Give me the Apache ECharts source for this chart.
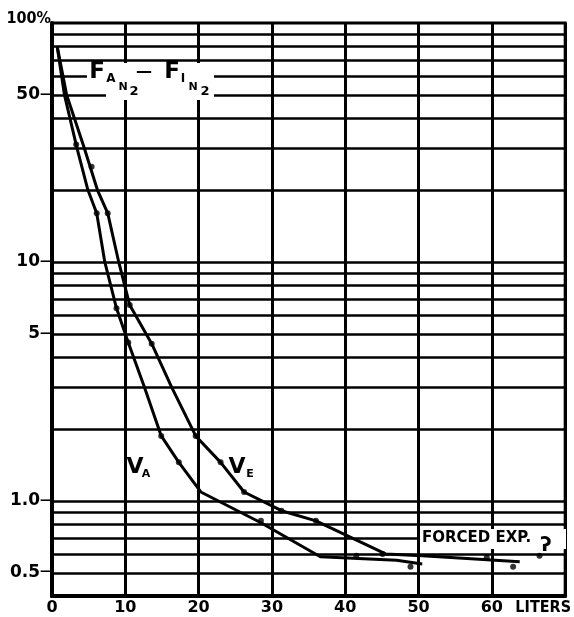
<!DOCTYPE html>
<html><head><meta charset="utf-8">
<script src="https://cdn.jsdelivr.net/npm/echarts@6/dist/echarts.min.js"></script>
<style>html,body{margin:0;padding:0;background:#fff}#c{width:574px;height:617px}</style>
</head><body><div id="c"></div>
<script>
// ---- data ----
const xTickValues = [0, 10, 20, 30, 40, 50, 60, 70];
const xTickTexts = ['0', '10', '20', '30', '40', '50', '60', 'LITERS'];
const yLabelValues = [0.5, 1, 5, 10, 50, 100];
const yLabelTexts = ['0.5', '1.0', '5', '10', '50', '100%'];
const yGridValues = [0.5, 0.6, 0.7, 0.8, 0.9, 1, 2, 3, 4, 5, 6, 7, 8, 9, 10, 20, 30, 40, 50, 60, 70, 80, 90];

// V_A curve (alveolar)
const vaLineX = [0.7, 1.7, 3.4, 4.9, 6.1, 7.2, 8.8, 10.4, 12.6, 14.9, 17.3, 20.3, 28.5, 36.6, 47.0, 50.5];
const vaLineY = [80, 50, 30, 20, 16, 10, 6.4, 4.6, 3.0, 1.87, 1.45, 1.09, 0.81, 0.584, 0.565, 0.545];
// V_E curve (expired)
const veLineX = [0.7, 2.0, 4.4, 6.2, 7.6, 9.1, 10.6, 13.6, 16.3, 19.6, 23.0, 26.2, 31.3, 36.0, 45.5, 50.5, 63.8];
const veLineY = [80, 50, 30, 20, 16, 10, 6.6, 4.55, 3.0, 1.87, 1.45, 1.09, 0.91, 0.825, 0.6, 0.59, 0.557];

// measured points
const vaDotX = [3.3, 6.1, 8.8, 10.4, 14.9, 17.3, 28.5, 41.5, 48.9];
const vaDotY = [31, 16, 6.4, 4.6, 1.87, 1.45, 0.825, 0.59, 0.53];
const veDotX = [5.4, 7.6, 10.6, 13.6, 19.6, 23.0, 26.2, 31.3, 36.0, 45.1, 59.3, 62.9, 66.5];
const veDotY = [25, 16, 6.6, 4.55, 1.87, 1.45, 1.09, 0.91, 0.825, 0.6, 0.58, 0.53, 0.59];

// ---- chart ----
const FONT = "'DejaVu Sans', sans-serif";
const CFONT = "'DejaVu Sans Condensed', 'DejaVu Sans', sans-serif";
const pairs = (xs, ys) => xs.map((x, i) => [x, ys[i]]);
const nearestIdx = (v) => {
  let best = -1, bd = 1e9;
  yLabelValues.forEach((lv, i) => { const d = Math.abs(Math.log10(v) - Math.log10(lv)); if (d < bd) { bd = d; best = i; } });
  return bd < 0.01 ? best : -1;
};

const chart = echarts.init(document.getElementById('c'), null, { renderer: 'canvas' });

function txt(x, y, text, size, extra) {
  return Object.assign({
    type: 'text', x: x, y: y, z: 101,
    style: { text: text, fontSize: size, fontWeight: 'bold', fontFamily: FONT, fill: '#000', align: 'center', verticalAlign: 'middle' }
  }, extra || {});
}
function box(x, y, w, h) {
  return { type: 'rect', z: 100, shape: { x: x, y: y, width: w, height: h }, style: { fill: '#fff' } };
}

const option = {
  animation: false,
  backgroundColor: '#fff',
  grid: { left: 52, right: 7, top: 23, bottom: 21, show: true, borderColor: '#000', borderWidth: 3, backgroundColor: 'transparent' },
  xAxis: {
    type: 'value', min: 0, max: 70, interval: 10,
    axisLine: { show: true, onZero: false, lineStyle: { color: '#000', width: 4 } },
    axisTick: { show: false },
    splitLine: { show: true, lineStyle: { color: '#000', width: 3 } },
    axisLabel: {
      color: '#000', fontFamily: FONT, fontWeight: 'bold', fontSize: 16, margin: 4,
      formatter: (v) => { const i = xTickValues.indexOf(v); return v === 70 ? '{u|' + xTickTexts[i] + '}' : xTickTexts[i]; },
      rich: { u: { fontFamily: CFONT, fontWeight: 'bold', fontSize: 16, color: '#000', padding: [0, 44, 0, 0] } }
    }
  },
  yAxis: {
    type: 'log', logBase: 10, min: 0.4, max: 100,
    axisLine: { show: true, onZero: false, lineStyle: { color: '#000', width: 4 } },
    axisTick: { show: false },
    axisLabel: {
      customValues: yLabelValues, color: '#000', fontFamily: FONT, fontWeight: 'bold', fontSize: 16, margin: 0,
      formatter: (v) => {
        const i = nearestIdx(v);
        if (i < 0) return '';
        return yLabelValues[i] === 100 ? '{p|' + yLabelTexts[i] + '}' : '{n|' + yLabelTexts[i] + '}{t|—}';
      },
      rich: {
        n: { fontFamily: FONT, fontWeight: 'bold', fontSize: 17, color: '#000' },
        t: { fontFamily: FONT, fontWeight: 'bold', fontSize: 12, color: '#000', padding: [0, 0, 1, 0] },
        p: { fontFamily: CFONT, fontWeight: 'bold', fontSize: 16, color: '#000', padding: [0, 1, 8, 0] }
      }
    },
    splitLine: { show: false }
  },
  series: [
    {
      type: 'line', name: 'VA', data: pairs(vaLineX, vaLineY), symbol: 'none',
      lineStyle: { color: '#000', width: 3 }, z: 3,
      markLine: {
        silent: true, symbol: ['none', 'none'], label: { show: false },
        lineStyle: { color: '#000', width: 2.5, type: 'solid' },
        data: yGridValues.map(v => ({ yAxis: v }))
      }
    },
    { type: 'line', name: 'VE', data: pairs(veLineX, veLineY), symbol: 'none', lineStyle: { color: '#000', width: 3 }, z: 3 },
    { type: 'scatter', name: 'VA pts', data: pairs(vaDotX, vaDotY), symbolSize: 6, itemStyle: { color: '#000' }, z: 4 },
    { type: 'scatter', name: 'VE pts', data: pairs(veDotX, veDotY), symbolSize: 6, itemStyle: { color: '#000' }, z: 4 }
  ],
  graphic: [
    box(106, 63, 108, 37), box(87, 63, 20, 26),
    txt(97, 72, 'F', 23),
    txt(111, 79, 'A', 12),
    txt(123, 87, 'N', 11),
    txt(134, 92, '2', 13),
    txt(144, 72, '—', 16),
    txt(172, 72, 'F', 23),
    txt(183, 79, 'I', 12),
    txt(193, 87, 'N', 11),
    txt(205, 92, '2', 13),
    txt(135, 467, 'V', 22),
    txt(146, 474, 'A', 11),
    txt(237, 467, 'V', 22),
    txt(250, 474, 'E', 11),
    box(420, 529, 146, 20),
    txt(422, 538, 'FORCED EXP.', 15, {}),
    txt(546, 546, 'ʔ', 20)
  ]
};
option.graphic[option.graphic.length - 2].style.align = 'left';
chart.setOption(option);
</script>
</body></html>
